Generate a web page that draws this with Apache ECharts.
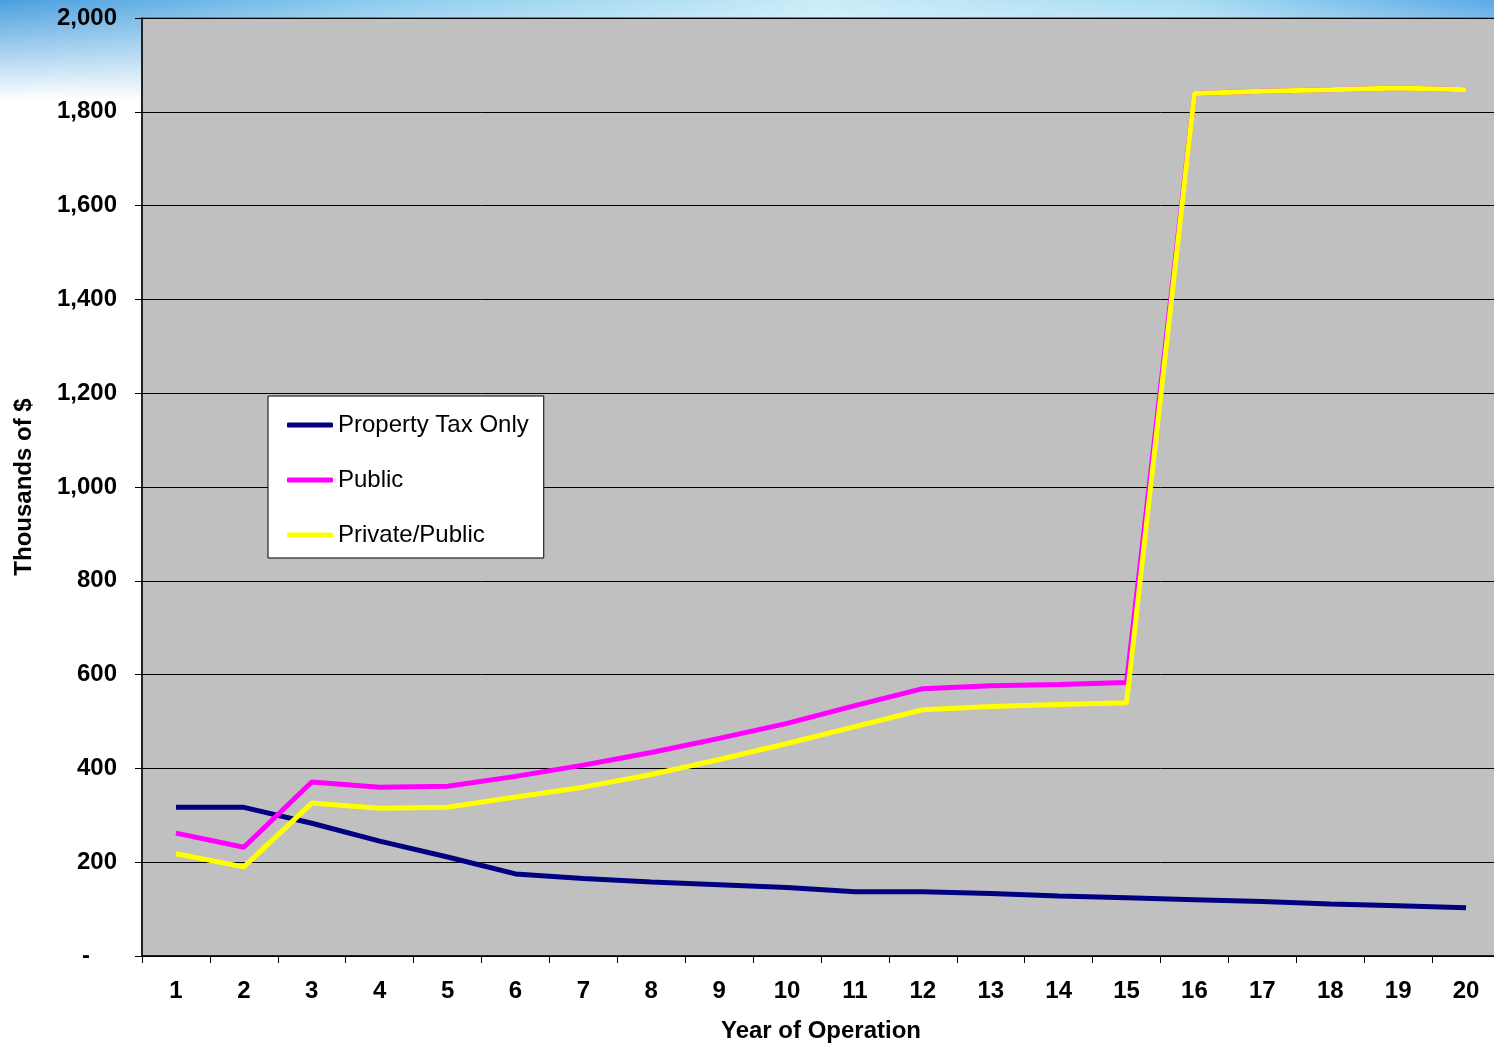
<!DOCTYPE html>
<html>
<head>
<meta charset="utf-8">
<script src="https://cdn.jsdelivr.net/npm/echarts@6/dist/echarts.min.js"></script>
<style>
  html, body { margin: 0; padding: 0; overflow: hidden; }
  body {
    width: 1494px; height: 1048px;
    background:
      linear-gradient(to bottom, rgba(255,255,255,0) 0px, #ffffff 100px),
      linear-gradient(to right, #4a9fde 0%, #8ccbee 25%, #c8ecf8 55%, #a9dcf3 80%, #5aa9e6 100%);
  }
  /* the plot runs slightly past the right edge of the window */
  #chart { width: 1500px; height: 1048px; }
</style>
</head>
<body>
<div id="chart"></div>
<script>
// Years of operation
const years = ['1','2','3','4','5','6','7','8','9','10','11','12','13','14','15','16','17','18','19','20'];

// Revenue streams, thousands of dollars
const propertyTaxOnly = [317, 317, 283, 245, 211, 175, 165, 158, 152, 146, 137, 137, 133, 128, 124, 120, 116, 111, 107, 103];
const publicOnly      = [262, 232, 371, 360, 362, 383, 407, 434, 464, 496, 534, 570, 576, 579, 583, 1839, 1844, 1847, 1851, 1847];
const privatePublic   = [218, 190, 326, 315, 317, 339, 360, 387, 419, 453, 489, 525, 532, 536, 540, 1839, 1844, 1847, 1851, 1847];

const seriesNames = ['Property Tax Only', 'Public', 'Private/Public'];
const seriesColors = ['#000080', '#ff00ff', '#ffff00'];

const chart = echarts.init(document.getElementById('chart'));

const FONT = '"Liberation Sans", Arial, sans-serif';
const boldText = {
  fontFamily: FONT,
  fontWeight: 'bold',
  fontSize: 24,
  color: '#000'
};

chart.setOption({
  animation: false,
  backgroundColor: 'transparent',
  grid: {
    left: 142, right: 0, top: 18, bottom: 85,
    show: true,
    backgroundColor: '#c0c0c0',
    borderColor: '#808080',
    borderWidth: 2
  },
  legend: {
    orient: 'vertical',
    left: 268, top: 396,
    data: seriesNames,
    icon: 'roundRect',
    itemWidth: 46, itemHeight: 5,
    itemGap: 31,
    backgroundColor: '#ffffff',
    borderColor: '#000000',
    borderWidth: 1,
    padding: [17, 15, 11, 19],
    textStyle: {
      fontFamily: FONT,
      fontSize: 24,
      color: '#000'
    }
  },
  xAxis: {
    type: 'category',
    data: years,
    boundaryGap: true,
    name: 'Year of Operation',
    nameLocation: 'middle',
    nameGap: 63,
    nameTextStyle: boldText,
    axisLine: { lineStyle: { color: '#000', width: 1.5 } },
    axisTick: { show: true, interval: 0, length: 7, lineStyle: { color: '#000' } },
    axisLabel: Object.assign({ margin: 23, interval: 0 }, boldText),
    splitLine: { show: false }
  },
  yAxis: {
    type: 'value',
    min: 0, max: 2000, interval: 200,
    name: 'Thousands of $',
    nameLocation: 'middle',
    nameGap: 106,
    nameRotate: 90,
    nameTextStyle: boldText,
    axisLine: { show: true, lineStyle: { color: '#000', width: 1.5 } },
    axisTick: { show: true, length: 7, lineStyle: { color: '#000' } },
    axisLabel: Object.assign({
      margin: 25,
      formatter: function (v) {
        return v === 0 ? '{dash|-}' : v.toLocaleString('en-US');
      },
      rich: { dash: { fontFamily: FONT, fontWeight: 'bold', fontSize: 24, padding: [0, 27, 0, 0] } }
    }, boldText),
    splitLine: { show: true, lineStyle: { color: '#000', width: 1 } }
  },
  series: [
    { name: seriesNames[0], type: 'line', data: propertyTaxOnly, symbol: 'none', color: seriesColors[0], lineStyle: { width: 5, color: seriesColors[0] }, z: 2 },
    { name: seriesNames[1], type: 'line', data: publicOnly, symbol: 'none', color: seriesColors[1], lineStyle: { width: 5, color: seriesColors[1] }, z: 3 },
    { name: seriesNames[2], type: 'line', data: privatePublic, symbol: 'none', color: seriesColors[2], lineStyle: { width: 5, color: seriesColors[2] }, z: 4 }
  ]
});
</script>
</body>
</html>
